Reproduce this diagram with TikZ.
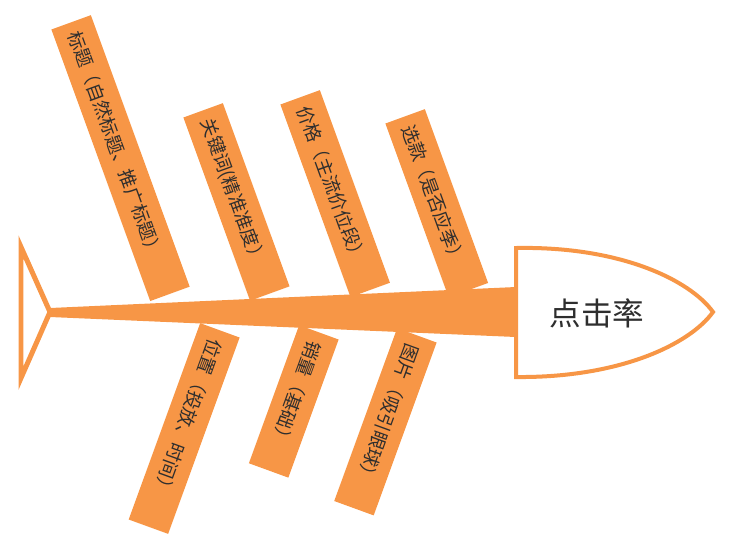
\documentclass[tikz,border=0pt]{standalone}
\usepackage{fontspec}
\newfontfamily\cjk{Noto Sans CJK SC}
\definecolor{fishorange}{HTML}{F79646}
\definecolor{labelgray}{HTML}{2E2E2E}

\begin{document}
\begin{tikzpicture}[x=0.02cm,y=-0.02cm,
    bone/.style={fill=fishorange,text=labelgray,font=\cjk\fontsize{10.5}{12}\selectfont,
      minimum height=0.84cm,inner xsep=0.2cm,inner ysep=0pt,align=left,anchor=west},
    upbone/.style={bone,rotate=-70},
    downbone/.style={bone,rotate=-110}]
  \useasboundingbox (0,0) rectangle (730,552);
  % upper bones
  \node[upbone,text width=5.38cm] (title) at (71,22) {标题（自然标题、推广标题）};
  \node[upbone,text width=3.5cm] (keyword) at (203,110) {关键词(精准准度）};
  \node[upbone,text width=3.7cm] (price) at (300,97) {价格（主流价位段）};
  \node[upbone,text width=3.3cm] (style) at (405,116) {选款（是否应季）};
  % lower bones
  \node[downbone,text width=3.78cm] (place) at (220,330) {位置（投放、时间）};
  \node[downbone,text width=2.54cm] (sales) at (319,332) {销量（基础）};
  \node[downbone,text width=3.28cm] (image) at (417,335) {图片（吸引眼球）};
  % tail and spine
  \draw[fishorange,line width=0.1cm] (21,247) -- (50,312) -- (21,378) -- cycle;
  \fill[fishorange] (50,308) -- (516,287) -- (516,337) -- (50,317) -- cycle;
  % head
  \draw[fishorange,line width=0.08cm,fill=white] (516,248) -- (516,377)
    .. controls (620,378) and (690,344) .. (713,312)
    .. controls (690,280) and (620,246) .. (516,248) -- cycle;
  \node[text=labelgray,font=\cjk\fontsize{18}{20}\selectfont] (rate) at (597,313) {点击率};
\end{tikzpicture}
\end{document}
